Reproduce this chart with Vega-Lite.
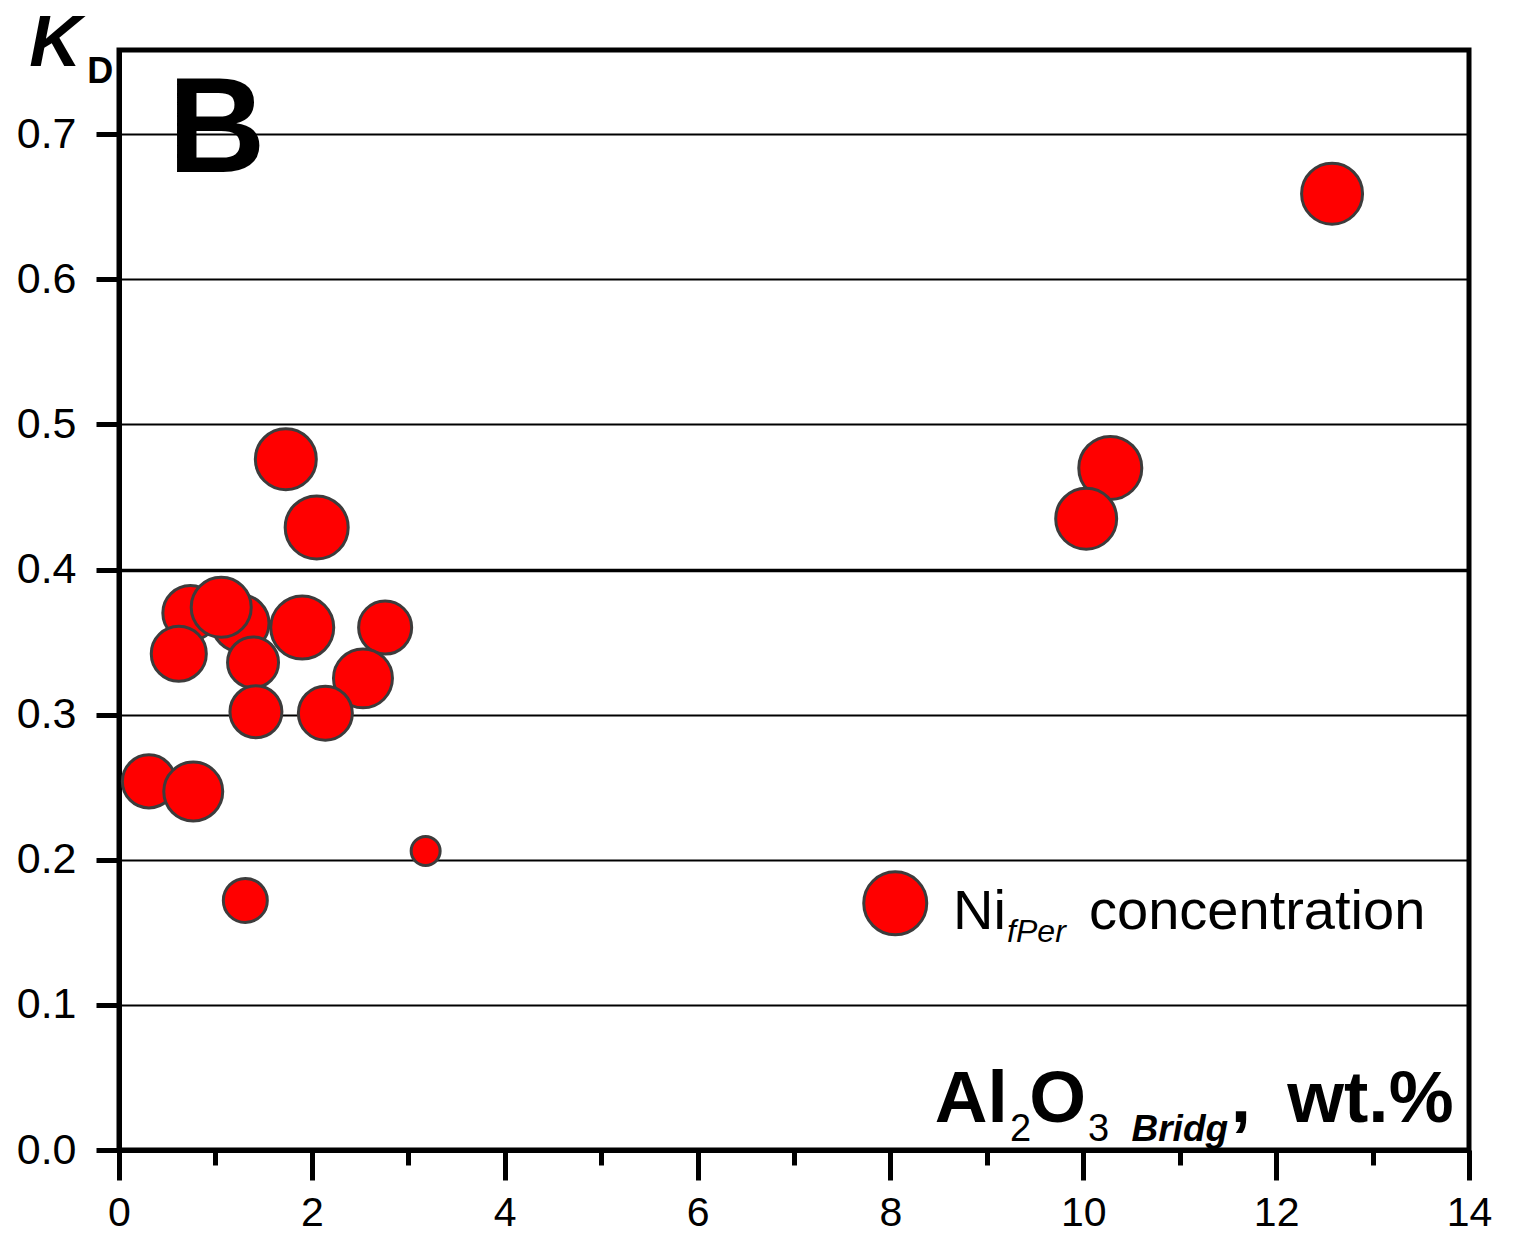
{
  "$schema": "https://vega.github.io/schema/vega-lite/v6.json",
  "width": 1350,
  "height": 1100,
  "autosize": "none",
  "padding": {"left": 119, "top": 50, "right": 48, "bottom": 86},
  "background": "white",
  "config": {
    "view": {"stroke": "black", "strokeWidth": 5},
    "font": "Liberation Sans",
    "text": {"font": "Liberation Sans", "color": "black"}
  },
  "datasets": {
    "points": [
      {"al2o3": 0.74, "kd": 0.370, "ni": 2.38},
      {"al2o3": 1.26, "kd": 0.363, "ni": 2.55},
      {"al2o3": 1.06, "kd": 0.374, "ni": 2.83},
      {"al2o3": 0.62, "kd": 0.342, "ni": 2.38},
      {"al2o3": 1.39, "kd": 0.336, "ni": 2.04},
      {"al2o3": 1.42, "kd": 0.302, "ni": 2.12},
      {"al2o3": 1.90, "kd": 0.360, "ni": 3.12},
      {"al2o3": 2.76, "kd": 0.360, "ni": 2.21},
      {"al2o3": 2.53, "kd": 0.325, "ni": 2.73},
      {"al2o3": 2.14, "kd": 0.301, "ni": 2.29},
      {"al2o3": 1.73, "kd": 0.476, "ni": 2.92},
      {"al2o3": 2.05, "kd": 0.429, "ni": 3.12},
      {"al2o3": 0.31, "kd": 0.254, "ni": 2.21},
      {"al2o3": 0.77, "kd": 0.247, "ni": 2.73},
      {"al2o3": 1.31, "kd": 0.172, "ni": 1.52},
      {"al2o3": 3.18, "kd": 0.206, "ni": 0.66},
      {"al2o3": 10.28, "kd": 0.470, "ni": 3.12},
      {"al2o3": 10.03, "kd": 0.435, "ni": 2.92},
      {"al2o3": 12.58, "kd": 0.659, "ni": 2.92}
    ],
    "one": [{}]
  },
  "layer": [
    {
      "data": {"name": "points"},
      "mark": {"type": "circle", "fill": "#ff0000", "stroke": "#3c3c3c", "strokeWidth": 3, "opacity": 1},
      "encoding": {
        "x": {
          "field": "al2o3", "type": "quantitative",
          "scale": {"domain": [0, 14], "nice": false, "zero": false},
          "axis": {
            "title": null,
            "values": [0, 1, 2, 3, 4, 5, 6, 7, 8, 9, 10, 11, 12, 13, 14],
            "format": "d",
            "grid": false,
            "domain": true, "domainColor": "black", "domainWidth": 5,
            "ticks": true, "tickColor": "black", "tickWidth": 5,
            "tickSize": {"condition": {"test": "datum.value % 2 === 0", "value": 30}, "value": 15},
            "labelExpr": "datum.value % 2 === 0 ? datum.label : ''",
            "labelFontSize": 41, "labelColor": "black", "labelFont": "Liberation Sans",
            "labelPadding": 13, "labelFlush": false, "labelOverlap": false
          }
        },
        "y": {
          "field": "kd", "type": "quantitative",
          "scale": {"domain": [0, 0.758], "nice": false},
          "axis": {
            "title": null,
            "values": [0, 0.1, 0.2, 0.3, 0.4, 0.5, 0.6, 0.7],
            "format": ".1f",
            "grid": true, "gridColor": "black",
            "gridWidth": {"condition": {"test": "abs(datum.value - 0.4) < 0.001", "value": 3.5}, "value": 2},
            "domain": true, "domainColor": "black", "domainWidth": 5,
            "ticks": true, "tickColor": "black", "tickWidth": 5, "tickSize": 23,
            "labelFontSize": 43, "labelColor": "black", "labelFont": "Liberation Sans",
            "labelPadding": 20, "labelFlush": false, "labelOverlap": false
          }
        },
        "size": {
          "field": "ni", "type": "quantitative",
          "scale": {"type": "linear", "domain": [0, 4], "range": [0, 5093], "zero": true},
          "legend": null
        }
      }
    },
    {
      "data": {"name": "one"},
      "mark": {"type": "circle", "fill": "#ff0000", "stroke": "#3c3c3c", "strokeWidth": 3, "opacity": 1, "size": 3969},
      "encoding": {
        "x": {"datum": 8.05, "type": "quantitative"},
        "y": {"datum": 0.170, "type": "quantitative"}
      }
    },
    {
      "data": {"name": "one"},
      "mark": {"type": "text", "fontSize": 56, "align": "left", "baseline": "alphabetic"},
      "encoding": {
        "x": {"datum": 8.65, "type": "quantitative"},
        "y": {"datum": 0.152, "type": "quantitative"},
        "text": {"value": "Ni"}
      }
    },
    {
      "data": {"name": "one"},
      "mark": {"type": "text", "fontSize": 32, "fontStyle": "italic", "align": "left", "baseline": "alphabetic"},
      "encoding": {
        "x": {"datum": 9.21, "type": "quantitative"},
        "y": {"datum": 0.143, "type": "quantitative"},
        "text": {"value": "fPer"}
      }
    },
    {
      "data": {"name": "one"},
      "mark": {"type": "text", "fontSize": 56, "align": "left", "baseline": "alphabetic"},
      "encoding": {
        "x": {"datum": 10.06, "type": "quantitative"},
        "y": {"datum": 0.152, "type": "quantitative"},
        "text": {"value": "concentration"}
      }
    },
    {
      "data": {"name": "one"},
      "mark": {"type": "text", "fontSize": 135, "fontWeight": "bold", "align": "left", "baseline": "alphabetic"},
      "encoding": {
        "x": {"datum": 0.508, "type": "quantitative"},
        "y": {"datum": 0.674, "type": "quantitative"},
        "text": {"value": "B"}
      }
    },
    {
      "data": {"name": "one"},
      "mark": {"type": "text", "fontSize": 72, "fontWeight": "bold", "fontStyle": "italic", "align": "left", "baseline": "alphabetic"},
      "encoding": {
        "x": {"datum": -0.93, "type": "quantitative"},
        "y": {"datum": 0.747, "type": "quantitative"},
        "text": {"value": "K"}
      }
    },
    {
      "data": {"name": "one"},
      "mark": {"type": "text", "fontSize": 36, "fontWeight": "bold", "align": "left", "baseline": "alphabetic"},
      "encoding": {
        "x": {"datum": -0.33, "type": "quantitative"},
        "y": {"datum": 0.735, "type": "quantitative"},
        "text": {"value": "D"}
      }
    },
    {
      "data": {"name": "one"},
      "mark": {"type": "text", "fontSize": 73, "fontWeight": "bold", "align": "left", "baseline": "alphabetic"},
      "encoding": {
        "x": {"datum": 8.46, "type": "quantitative"},
        "y": {"datum": 0.0193, "type": "quantitative"},
        "text": {"value": "Al"}
      }
    },
    {
      "data": {"name": "one"},
      "mark": {"type": "text", "fontSize": 38, "align": "left", "baseline": "alphabetic"},
      "encoding": {
        "x": {"datum": 9.24, "type": "quantitative"},
        "y": {"datum": 0.0065, "type": "quantitative"},
        "text": {"value": "2"}
      }
    },
    {
      "data": {"name": "one"},
      "mark": {"type": "text", "fontSize": 73, "fontWeight": "bold", "align": "left", "baseline": "alphabetic"},
      "encoding": {
        "x": {"datum": 9.44, "type": "quantitative"},
        "y": {"datum": 0.0193, "type": "quantitative"},
        "text": {"value": "O"}
      }
    },
    {
      "data": {"name": "one"},
      "mark": {"type": "text", "fontSize": 38, "align": "left", "baseline": "alphabetic"},
      "encoding": {
        "x": {"datum": 10.05, "type": "quantitative"},
        "y": {"datum": 0.0065, "type": "quantitative"},
        "text": {"value": "3"}
      }
    },
    {
      "data": {"name": "one"},
      "mark": {"type": "text", "fontSize": 37, "fontWeight": "bold", "fontStyle": "italic", "align": "left", "baseline": "alphabetic"},
      "encoding": {
        "x": {"datum": 10.50, "type": "quantitative"},
        "y": {"datum": 0.0065, "type": "quantitative"},
        "text": {"value": "Bridg"}
      }
    },
    {
      "data": {"name": "one"},
      "mark": {"type": "text", "fontSize": 73, "fontWeight": "bold", "align": "left", "baseline": "alphabetic"},
      "encoding": {
        "x": {"datum": 11.53, "type": "quantitative"},
        "y": {"datum": 0.0193, "type": "quantitative"},
        "text": {"value": ","}
      }
    },
    {
      "data": {"name": "one"},
      "mark": {"type": "text", "fontSize": 73, "fontWeight": "bold", "align": "right", "baseline": "alphabetic"},
      "encoding": {
        "x": {"datum": 13.84, "type": "quantitative"},
        "y": {"datum": 0.0193, "type": "quantitative"},
        "text": {"value": "wt.%"}
      }
    }
  ]
}
